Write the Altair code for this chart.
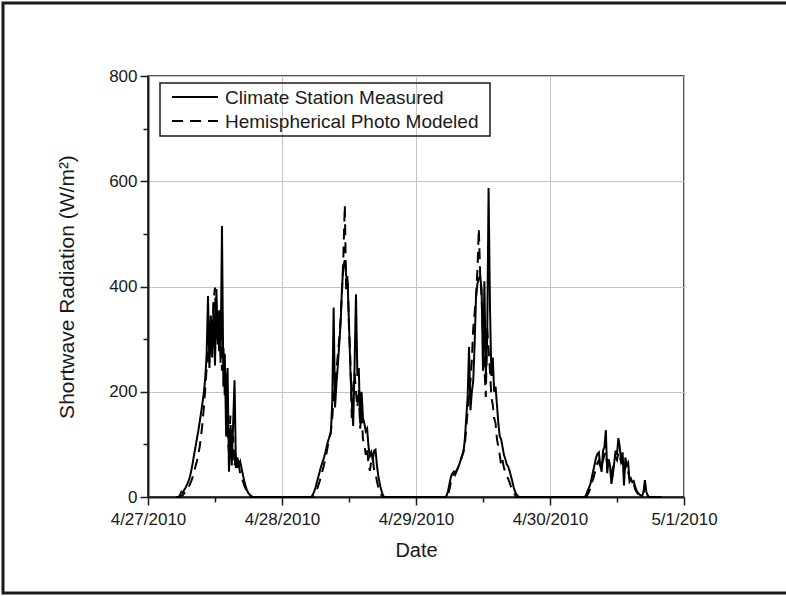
import altair as alt
import pandas as pd

# Shortwave radiation, 15-minute samples starting at 05:00 each day (W/m^2)
measured_apr27 = [0, 0, 0, 4, 10, 8, 14, 18, 24, 30, 38, 50, 64, 80, 95, 110,
                  125, 142, 160, 178, 198, 225, 270, 382, 245, 345, 265, 370, 250, 395,
                  290, 355, 255, 515, 210, 272, 115, 245, 48, 130, 60, 140, 222, 55,
                  75, 62, 68, 55, 42, 30, 20, 12, 7, 4, 2, 0, 0, 0, 0, 0, 0]
modeled_apr27 = [0, 0, 0, 0, 2, 4, 7, 10, 14, 18, 24, 30, 38, 48, 58, 68,
                 80, 95, 115, 140, 170, 205, 245, 300, 255, 330, 285, 375, 398, 300,
                 345, 275, 320, 240, 290, 190, 235, 120, 85, 155, 70, 115, 58, 85,
                 50, 62, 45, 38, 30, 22, 15, 10, 6, 3, 0, 0, 0, 0, 0, 0, 0]

measured_apr28 = [0, 0, 4, 10, 18, 28, 38, 48, 58, 66, 74, 84, 96, 106, 115, 122,
                  180, 360, 170, 215, 250, 290, 330, 400, 440, 450, 420, 410, 330, 240,
                  180, 135, 250, 385, 230, 245, 140, 200, 150, 140, 125, 130, 95, 78,
                  85, 70, 88, 90, 60, 40, 25, 14, 6, 0, 0, 0, 0, 0, 0, 0, 0]
modeled_apr28 = [0, 0, 0, 3, 8, 14, 22, 30, 40, 50, 60, 72, 85, 100, 110, 125,
                 150, 190, 215, 240, 270, 300, 340, 390, 460, 555, 390, 420, 320, 260,
                 150, 210, 235, 200, 170, 205, 130, 160, 110, 100, 80, 95, 60, 50,
                 70, 75, 50, 45, 30, 18, 10, 5, 0, 0, 0, 0, 0, 0, 0, 0, 0]

measured_apr29 = [0, 0, 3, 12, 25, 38, 45, 48, 42, 48, 55, 62, 70, 78, 85, 110,
                  150, 190, 285, 165, 200, 220, 290, 380, 405, 415, 420, 395, 240, 410,
                  230, 300, 587, 360, 230, 265, 200, 210, 175, 140, 115, 110, 95, 80,
                  72, 62, 58, 50, 40, 30, 18, 10, 5, 2, 0, 0, 0, 0, 0, 0, 0]
modeled_apr29 = [0, 0, 0, 5, 15, 28, 38, 45, 48, 50, 55, 62, 70, 78, 88, 100,
                 130, 165, 200, 220, 260, 320, 350, 380, 430, 510, 420, 380, 300, 250,
                 190, 320, 280, 240, 190, 175, 150, 140, 110, 95, 80, 60, 70, 55,
                 48, 40, 35, 28, 20, 14, 8, 4, 0, 0, 0, 0, 0, 0, 0, 0, 0]

measured_apr30 = [0, 0, 0, 0, 0, 0, 5, 12, 18, 25, 38, 50, 62, 75, 82, 85,
                  60, 48, 88, 95, 127, 45, 72, 60, 25, 42, 65, 88, 80, 112,
                  95, 65, 85, 22, 75, 60, 65, 30, 35, 28, 30, 20, 12, 8,
                  5, 3, 2, 10, 32, 10, 3, 0, 0, 0, 0, 0, 0, 0, 0, 0, 0]
modeled_apr30 = [0, 0, 0, 0, 0, 0, 0, 5, 10, 18, 28, 35, 45, 55, 65, 70,
                 55, 60, 70, 80, 85, 60, 65, 55, 45, 55, 62, 75, 70, 85,
                 78, 65, 70, 45, 60, 50, 48, 35, 30, 22, 25, 15, 10, 6,
                 4, 3, 3, 8, 22, 8, 2, 0, 0, 0, 0, 0, 0, 0, 0, 0, 0]

day_starts = ["2010-04-27 05:00", "2010-04-28 05:00", "2010-04-29 05:00", "2010-04-30 05:00"]
series_names = ["Climate Station Measured", "Hemispherical Photo Modeled"]
series_dash = [[1, 0], [11, 7]]
measured_days = [measured_apr27, measured_apr28, measured_apr29, measured_apr30]
modeled_days = [modeled_apr27, modeled_apr28, modeled_apr29, modeled_apr30]

rows = []
for name, days in zip(series_names, [measured_days, modeled_days]):
    for start, values in zip(day_starts, days):
        stamps = pd.date_range(start, periods=len(values), freq="15min")
        for t, v in zip(stamps, values):
            rows.append({"time": t.strftime("%Y-%m-%dT%H:%M:%S"), "radiation": v, "series": name})
df = pd.DataFrame(rows)

FONT = "Liberation Sans"
INK = "#1a1a1a"

x_ticks = [alt.DateTime(year=2010, month=m, date=d, hours=h)
           for (m, d) in [(4, 27), (4, 28), (4, 29), (4, 30)] for h in (0, 12)]
x_ticks.append(alt.DateTime(year=2010, month=5, date=1))

x_axis = alt.Axis(
    title="Date",
    values=x_ticks,
    format="%-m/%-d/%Y",
    labelExpr="hours(datum.value) == 0 ? datum.label : ''",
    labelOverlap=False,
    labelBound=False,
    labelFlush=False,
    tickSize={"condition": {"test": "hours(datum.value) == 0", "value": 8}, "value": 5},
    gridOpacity={"condition": {"test": "hours(datum.value) == 0", "value": 1}, "value": 0},
    labelPadding=6,
    titlePadding=13,
    titleFontSize=20,
)

y_axis = alt.Axis(
    title="Shortwave Radiation (W/m²)",
    values=list(range(0, 801, 100)),
    labelExpr="datum.value % 200 == 0 ? datum.label : ''",
    labelOverlap=False,
    labelBound=False,
    labelFlush=False,
    tickSize={"condition": {"test": "datum.value % 200 == 0", "value": 8}, "value": 5},
    gridOpacity={"condition": {"test": "datum.value % 200 == 0", "value": 1}, "value": 0},
    labelPadding=3,
    titlePadding=31,
    titleFontSize=21,
)

lines = alt.Chart(df).mark_line(strokeWidth=2, color="black", interpolate="linear").encode(
    x=alt.X("time:T", axis=x_axis,
            scale=alt.Scale(domain=[alt.DateTime(year=2010, month=4, date=27),
                                    alt.DateTime(year=2010, month=5, date=1)])),
    y=alt.Y("radiation:Q", axis=y_axis, scale=alt.Scale(domain=[0, 800], nice=False)),
    strokeDash=alt.StrokeDash("series:N",
                              scale=alt.Scale(domain=series_names, range=series_dash),
                              legend=None),
    detail="series:N",
)

# Legend: framed box with a line sample and a label for each series
one = alt.Data(values=[{}])
legend_box = alt.Chart(one).mark_rect(fill=None, stroke=INK, strokeWidth=1.5).encode(
    x=alt.value(12), x2=alt.value(342), y=alt.value(7), y2=alt.value(60)
)
legend_layers = [legend_box]
for i, (name, dash) in enumerate(zip(series_names, series_dash)):
    row_y = 21 + 24 * i
    legend_layers.append(
        alt.Chart(one).mark_rule(color="black", strokeWidth=2, strokeDash=dash).encode(
            x=alt.value(24), x2=alt.value(70), y=alt.value(row_y)
        )
    )
    legend_layers.append(
        alt.Chart(one).mark_text(align="left", baseline="middle", font=FONT,
                                 fontSize=19, color=INK).encode(
            x=alt.value(77), y=alt.value(row_y + 1), text=alt.value(name)
        )
    )

# Outer frame around the figure
frame = alt.Chart(one).mark_rect(fill=None, stroke=INK, strokeWidth=3).encode(
    x=alt.value(-145), x2=alt.value(700), y=alt.value(-73), y2=alt.value(517)
)

chart = alt.layer(lines, *legend_layers, frame).properties(
    width=536, height=421,
    autosize=alt.AutoSizeParams(type="none"),
    padding={"left": 148, "top": 76, "right": 102, "bottom": 99},
    background="white",
).configure_view(
    stroke=INK, strokeWidth=1.5
).configure_axis(
    domainColor=INK, domainWidth=2, tickColor=INK, tickWidth=1.5,
    gridColor="#c4c4c4", gridWidth=1,
    labelFont=FONT, labelFontSize=17, labelColor=INK,
    titleFont=FONT, titleFontWeight="normal", titleColor=INK,
)

chart.save("out.html", embed_options={"renderer": "svg", "actions": False})
